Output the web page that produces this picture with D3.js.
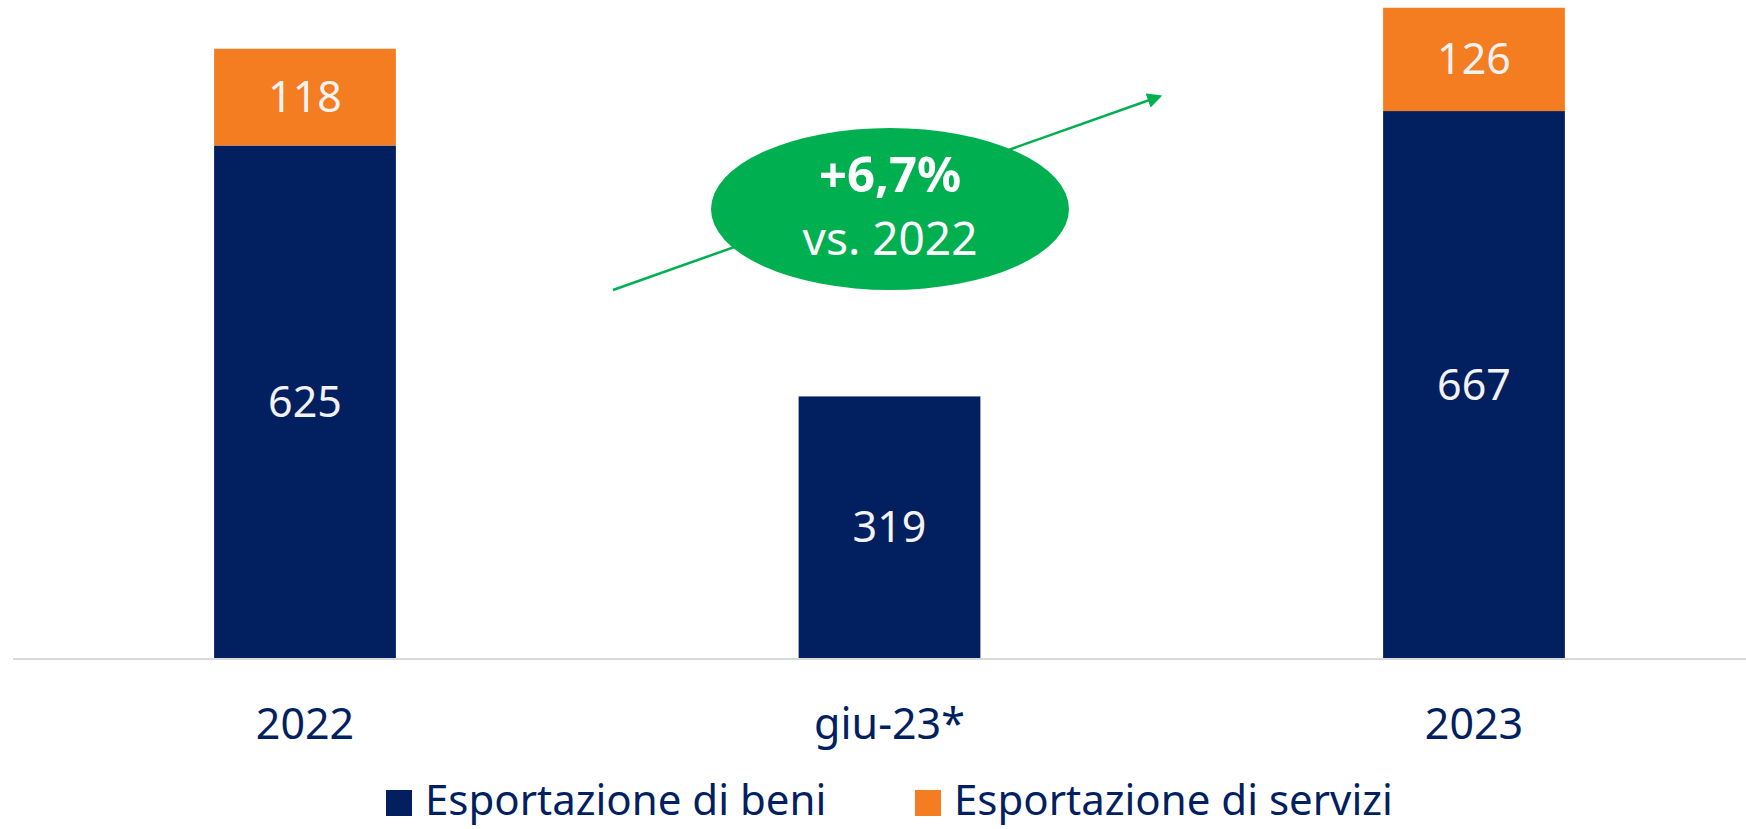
<!doctype html>
<html lang="it">
<head>
    <meta charset="UTF-8" />
    <title>Esportazioni</title>
    <script src="https://d3js.org/d3.v7.min.js"></script>
    <style>
        body, html {
            margin: 0;
            padding: 0;
            background: #ffffff;
            overflow: hidden;
        }
        svg {
            display: block;
            font-family: "Noto Sans", "Open Sans", sans-serif;
        }
    </style>
</head>
<body>
    <svg id="chart"></svg>

    <script>
        // dati
        const categories = ["2022", "giu-23*", "2023"];
        const beni = [625, 319, 667];
        const servizi = [118, null, 126];
        const seriesNames = ["Esportazione di beni", "Esportazione di servizi"];
        const seriesColors = ["#021f5f", "#f47d22"];
        const growthLabel = ["+6,7%", "vs. 2022"];

        const width = 1746;
        const height = 829;
        const baseline = 658;

        const svg = d3.select("#chart")
            .attr("width", width)
            .attr("height", height);

        const x = d3.scaleBand()
            .domain(categories)
            .range([12.75, 1766.25])
            .paddingInner(0.689)
            .paddingOuter(0.3445);

        const y = d3.scaleLinear()
            .domain([0, 800])
            .range([baseline, 2]);

        const rows = categories.map((c, i) => ({ cat: c, beni: beni[i], servizi: servizi[i] || 0 }));
        const stack = d3.stack().keys(["beni", "servizi"])(rows);

        // asse orizzontale
        svg.append("line")
            .attr("x1", 13)
            .attr("x2", width)
            .attr("y1", baseline + 1)
            .attr("y2", baseline + 1)
            .attr("stroke", "#d9d9d9")
            .attr("stroke-width", 2);

        // freccia di crescita (dietro l'ellisse)
        const defs = svg.append("defs");
        defs.append("marker")
            .attr("id", "arrow")
            .attr("viewBox", "0 0 10 10")
            .attr("refX", 7)
            .attr("refY", 5)
            .attr("markerWidth", 6)
            .attr("markerHeight", 6)
            .attr("orient", "auto")
            .append("path")
            .attr("d", "M0,0 L10,5 L0,10 Z")
            .attr("fill", "#00b050");

        svg.append("line")
            .attr("x1", 613)
            .attr("y1", 290)
            .attr("x2", 1158)
            .attr("y2", 97)
            .attr("stroke", "#00b050")
            .attr("stroke-width", 2.5)
            .attr("marker-end", "url(#arrow)");

        // barre impilate
        const layers = svg.selectAll("g.layer")
            .data(stack)
            .join("g")
            .attr("class", "layer")
            .attr("fill", (d, i) => seriesColors[i]);

        layers.selectAll("rect")
            .data(d => d.filter(p => p[1] > p[0]))
            .join("rect")
            .attr("x", d => x(d.data.cat))
            .attr("width", x.bandwidth())
            .attr("y", d => y(d[1]))
            .attr("height", d => y(d[0]) - y(d[1]));

        layers.selectAll("text")
            .data(d => d.filter(p => p[1] > p[0]))
            .join("text")
            .attr("x", d => x(d.data.cat) + x.bandwidth() / 2)
            .attr("y", d => (y(d[0]) + y(d[1])) / 2)
            .attr("dy", "0.35em")
            .attr("text-anchor", "middle")
            .attr("font-size", 43)
            .attr("fill", "#f2f2f2")
            .text(d => d[1] - d[0]);

        // etichette categorie
        svg.selectAll("text.cat")
            .data(categories)
            .join("text")
            .attr("class", "cat")
            .attr("x", d => x(d) + x.bandwidth() / 2)
            .attr("y", 724)
            .attr("dy", "0.35em")
            .attr("text-anchor", "middle")
            .attr("font-size", 43)
            .attr("fill", "#021f5f")
            .text(d => d);

        // ellisse con variazione
        svg.append("ellipse")
            .attr("cx", 890)
            .attr("cy", 209)
            .attr("rx", 179)
            .attr("ry", 81)
            .attr("fill", "#00b050");

        svg.append("text")
            .attr("x", 890)
            .attr("y", 175)
            .attr("dy", "0.35em")
            .attr("text-anchor", "middle")
            .attr("font-size", 49)
            .attr("font-weight", "bold")
            .attr("fill", "#ffffff")
            .text(growthLabel[0]);

        svg.append("text")
            .attr("x", 890)
            .attr("y", 239)
            .attr("dy", "0.35em")
            .attr("text-anchor", "middle")
            .attr("font-size", 46)
            .attr("fill", "#ffffff")
            .text(growthLabel[1]);

        // legenda
        const legendX = [386, 915];
        const legend = svg.selectAll("g.legend")
            .data(seriesNames)
            .join("g")
            .attr("class", "legend")
            .attr("transform", (d, i) => `translate(${legendX[i]},802)`);

        legend.append("rect")
            .attr("x", 0)
            .attr("y", -12)
            .attr("width", 26)
            .attr("height", 26)
            .attr("fill", (d, i) => seriesColors[i]);

        legend.append("text")
            .attr("x", 39)
            .attr("y", -2)
            .attr("dy", "0.35em")
            .attr("font-size", 42)
            .attr("fill", "#021f5f")
            .text(d => d);
    </script>
</body>
</html>
